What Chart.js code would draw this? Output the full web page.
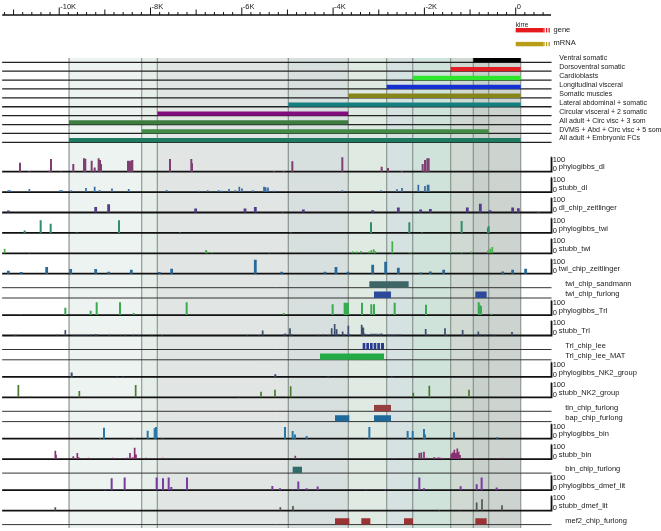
<!DOCTYPE html>
<html><head><meta charset="utf-8">
<script src="https://cdn.jsdelivr.net/npm/chart.js@4.4.0/dist/chart.umd.min.js"></script>
<style>html,body{margin:0;padding:0;background:#fff}#wrap{width:661px;height:531px}</style>
</head><body><div id="wrap"><canvas id="c" width="661" height="531"></canvas></div>
<script>
// ---------------- DATA ----------------
const rulerTickValues = [-10000,-8000,-6000,-4000,-2000,0];
const rulerTickLabels = ['-10K','-8K','-6K','-4K','-2K','0'];
const geneName = 'kirre';
const legendNames = ['gene','mRNA'];

const exprNames = ['Ventral somatic','Dorsoventral somatic','Cardioblasts','Longitudinal visceral','Somatic muscles','Lateral abdominal + somatic','Circular visceral + 2 somatic','All adult + Circ visc + 3 som','DVMS + Abd + Circ visc + 5 som','All adult + Embryonic FCs'];
const exprStart = [-929,-1424,-2256,-2826,-3667,-4981,-7851,-9785,-8193,-9785];
const exprEnd   = [110,110,110,110,110,110,-3667,-3667,-591,110];
const exprColors = ['#000000','#e31e24','#2ee62e','#1530d0','#85851a','#157f80','#820c7e','#3e7d40','#428a46','#1e7b61'];

const trackNames = ['phylogibbs_dl','stubb_dl','dl_chip_zeitlinger','phylogibbs_twi','stubb_twi','twi_chip_zeitlinger','twi_chip_sandmann','twi_chip_furlong','phylogibbs_Trl','stubb_Trl','Trl_chip_lee','Trl_chip_lee_MAT','phylogibbs_NK2_group','stubb_NK2_group','tin_chip_furlong','bap_chip_furlong','phylogibbs_bin','stubb_bin','bin_chip_furlong','phylogibbs_dmef_lit','stubb_dmef_lit','mef2_chip_furlong'];
const trackColors = ['#7f3f72','#3a6aa0','#553c8a','#2f8f6a','#48b048','#2a6a9a','#3e6666','#2c4a9a','#3aaa50','#3e4e6e','#2a3a90','#22aa44','#3a4a7a','#4a7a30','#944040','#1f6a9a','#2a78a8','#8a3070','#2f6e6a','#7a3aa0','#555555','#9a3434'];

const phylogibbs_dl_pos = [-10859,-10654,-10216,-10180,-9968,-9691,-9457,-9428,-9289,-9223,-9136,-9106,-9084,-8493,-8464,-8442,-8398,-7573,-7106,-7091,-5295,-5083,-4893,-3798,-2936,-2797,-2498,-2038,-1987,-1936,-1907];
const phylogibbs_dl_val = [62,5,7,88,3,53,93,90,76,30,93,81,53,76,72,76,81,88,88,58,4,5,72,100,35,25,5,53,81,93,93];
const stubb_dl_pos = [-11114,-11078,-10654,-9983,-9939,-9734,-9413,-9223,-9121,-9106,-8844,-8478,-7646,-6938,-6748,-6507,-6441,-6281,-6142,-6054,-5996,-5762,-5514,-5477,-5426,-5295,-3798,-2951,-2600,-2491,-2133,-1987,-1929,-1907];
const stubb_dl_val = [12,12,21,12,12,12,28,37,12,12,25,21,14,10,12,12,10,21,12,37,25,12,37,33,32,10,12,12,19,28,51,42,51,51];
const dl_chip_zeitlinger_pos = [-11114,-9201,-8917,-7011,-5930,-5704,-5105,-4652,-3133,-2571,-2082,-1870,-1060,-775,-563,-67,58,496];
const dl_chip_zeitlinger_val = [14,39,58,28,28,39,3,21,16,35,21,25,35,60,16,35,30,3];
const phylogibbs_twi_pos = [-10757,-10406,-10187,-9618,-8690,-7354,-4930,-3170,-2330,-2053,-1184,-607,-592];
const phylogibbs_twi_val = [16,88,63,3,88,2,2,74,74,2,83,35,46];
const stubb_twi_pos = [-11195,-10654,-6784,-6755,-6653,-5397,-3571,-3484,-3389,-3221,-3163,-3111,-3075,-2703,-2330,-2286,-1425,-1184,-972,-607,-556,-512];
const stubb_twi_val = [32,5,23,12,9,5,14,12,16,12,23,28,14,83,9,9,9,9,12,19,32,44];
const twi_chip_zeitlinger_pos = [-11114,-10830,-10274,-9749,-9201,-8917,-8420,-7807,-7537,-5704,-5127,-4178,-3937,-3674,-3133,-2849,-2571,-2082,-1870,-1578,-286,-67,218];
const twi_chip_zeitlinger_val = [21,12,46,32,32,14,28,12,35,97,14,14,46,14,63,83,42,9,16,28,16,28,35];
const twi_chip_sandmann_start = [-3206];
const twi_chip_sandmann_end = [-2345];
const twi_chip_furlong_start = [-3104,-884];
const twi_chip_furlong_end = [-2732,-636];
const phylogibbs_Trl_pos = [-10844,-9866,-9311,-9179,-8668,-8369,-7208,-5083,-4010,-3747,-3710,-3674,-3367,-3163,-3104,-2761,-2651,-1965,-811,-789,-760,-534];
const phylogibbs_Trl_val = [5,51,30,90,90,14,90,14,76,86,86,86,86,76,76,5,86,72,90,72,63,9];
const stubb_Trl_pos = [-10990,-10947,-10056,-9866,-9691,-9618,-9545,-9472,-9384,-9311,-9216,-9179,-8902,-8654,-8551,-8376,-8259,-7967,-7748,-5879,-5623,-5543,-5076,-5047,-4944,-4901,-4324,-4214,-4105,-4031,-3966,-3922,-3871,-3791,-3754,-3666,-3630,-3374,-3338,-3309,-3265,-3177,-3126,-3082,-3031,-2973,-2936,-2812,-2768,-2717,-2666,-2608,-2535,-1972,-1907,-1549,-1498,-1162,-877,-819,-775,-673,-534,-461,-81];
const stubb_Trl_val = [5,5,7,39,5,5,5,5,5,7,9,9,5,5,5,5,5,5,3,3,5,35,9,14,51,9,5,9,5,51,79,44,9,28,9,67,9,74,56,14,9,12,12,12,12,12,14,9,7,7,5,7,9,46,5,51,5,39,7,28,9,7,9,5,25];
const Trl_chip_lee_start = [-3352,-3272,-3192,-3112,-3032,-2952];
const Trl_chip_lee_end = [-3294,-3214,-3134,-3054,-2974,-2885];
const Trl_chip_lee_MAT_start = [-4287];
const Trl_chip_lee_MAT_end = [-2885];
const phylogibbs_NK2_group_pos = [-9727,-8740,-8595,-5266,-4105,-2717];
const phylogibbs_NK2_group_val = [30,2,2,19,3,3];
const stubb_NK2_group_pos = [-10895,-10640,-9559,-8325,-6061,-5579,-5273,-4930,-2243,-1892,-1337,-1023];
const stubb_NK2_group_val = [86,5,44,86,3,39,53,76,32,81,5,53];
const tin_chip_furlong_start = [-3104];
const tin_chip_furlong_end = [-2732];
const bap_chip_furlong_start = [-3958,-3104];
const bap_chip_furlong_end = [-3644,-2732];
const phylogibbs_bin_pos = [-9106,-9019,-8347,-8062,-7909,-7880,-7734,-5054,-4886,-4835,-4579,-3287,-3206,-2367,-2257,-2009,-1987,-1352,-402];
const phylogibbs_bin_val = [3,76,3,56,72,81,3,81,53,30,19,2,81,53,53,67,30,44,12];
const stubb_bin_pos = [-10289,-10187,-10085,-10070,-9691,-9603,-9574,-9362,-8829,-8778,-8566,-8508,-8449,-8391,-8347,-8318,-8099,-7894,-7734,-4828,-2681,-2111,-2067,-2009,-1950,-1790,-1746,-1688,-1636,-1585,-1410,-1381,-1344,-1308,-1279,-1249,-1220,-1030,-957,-855,-738,-402,-308];
const stubb_bin_val = [3,5,58,30,19,42,12,9,9,5,5,9,42,12,79,32,9,5,9,23,7,42,46,51,9,12,9,12,9,7,37,46,65,42,74,51,28,5,5,7,5,5,9];
const bin_chip_furlong_start = [-4886];
const bin_chip_furlong_end = [-4681];
const phylogibbs_dmef_lit_pos = [-8997,-8851,-8566,-7865,-7726,-7602,-7544,-7200,-5331,-5163,-4886,-4762,-4579,-4338,-3279,-2863,-2111,-2009,-1206,-855,-746,-417];
const phylogibbs_dmef_lit_val = [3,83,88,88,83,88,23,88,30,14,5,60,14,25,3,5,88,14,28,42,88,19];
const stubb_dmef_lit_pos = [-10085,-8142,-5156,-4879,-3688,-1673,-1206,-855,-738,-300];
const stubb_dmef_lit_val = [23,3,23,32,3,5,3,56,79,37];
const mef2_chip_furlong_start = [-3958,-3382,-2447,-884];
const mef2_chip_furlong_end = [-3644,-3184,-2250,-636];

// ---------------- LAYOUT / STYLE ----------------
const X_MIN = -11297, X_MAX = 3183;
const RULER_START = -11250, RULER_END = 773, LINE_END = 785;
const Q_SCALE = 0.144;
const FONT = '"Liberation Sans", Arial, Helvetica, sans-serif';

const trackData = {
  phylogibbs_dl:{pos:phylogibbs_dl_pos,val:phylogibbs_dl_val},
  stubb_dl:{pos:stubb_dl_pos,val:stubb_dl_val},
  dl_chip_zeitlinger:{pos:dl_chip_zeitlinger_pos,val:dl_chip_zeitlinger_val},
  phylogibbs_twi:{pos:phylogibbs_twi_pos,val:phylogibbs_twi_val},
  stubb_twi:{pos:stubb_twi_pos,val:stubb_twi_val},
  twi_chip_zeitlinger:{pos:twi_chip_zeitlinger_pos,val:twi_chip_zeitlinger_val},
  twi_chip_sandmann:{start:twi_chip_sandmann_start,end:twi_chip_sandmann_end},
  twi_chip_furlong:{start:twi_chip_furlong_start,end:twi_chip_furlong_end},
  phylogibbs_Trl:{pos:phylogibbs_Trl_pos,val:phylogibbs_Trl_val},
  stubb_Trl:{pos:stubb_Trl_pos,val:stubb_Trl_val},
  Trl_chip_lee:{start:Trl_chip_lee_start,end:Trl_chip_lee_end},
  Trl_chip_lee_MAT:{start:Trl_chip_lee_MAT_start,end:Trl_chip_lee_MAT_end},
  phylogibbs_NK2_group:{pos:phylogibbs_NK2_group_pos,val:phylogibbs_NK2_group_val},
  stubb_NK2_group:{pos:stubb_NK2_group_pos,val:stubb_NK2_group_val},
  tin_chip_furlong:{start:tin_chip_furlong_start,end:tin_chip_furlong_end},
  bap_chip_furlong:{start:bap_chip_furlong_start,end:bap_chip_furlong_end},
  phylogibbs_bin:{pos:phylogibbs_bin_pos,val:phylogibbs_bin_val},
  stubb_bin:{pos:stubb_bin_pos,val:stubb_bin_val},
  bin_chip_furlong:{start:bin_chip_furlong_start,end:bin_chip_furlong_end},
  phylogibbs_dmef_lit:{pos:phylogibbs_dmef_lit_pos,val:phylogibbs_dmef_lit_val},
  stubb_dmef_lit:{pos:stubb_dmef_lit_pos,val:stubb_dmef_lit_val},
  mef2_chip_furlong:{start:mef2_chip_furlong_start,end:mef2_chip_furlong_end}
};

const EXPR_TOP = 62.3, EXPR_STEP = 8.89;
const exprBase = exprNames.map((_,i)=>EXPR_TOP + i*EXPR_STEP);
const trackBase = [];
(function(){
  let b = 171.7, prev = null;
  trackNames.forEach((n,i)=>{
    const q = !!trackData[n].pos;
    if (i>0){
      if (prev && q) b += 20.4;
      else if (prev && !q) b += 14.0;
      else if (!prev && q) b += 17.1;
      else b += 10.3;
    }
    trackBase.push(b); prev = q;
  });
})();
const BAND_TOP = 58, BAND_BOTTOM = 528;

function rgba(hex,a){const n=parseInt(hex.slice(1),16);return `rgba(${n>>16&255},${n>>8&255},${n&255},${a})`;}
function segs(list){const d=[];list.forEach(([x1,y1,x2,y2])=>{d.push({x:x1,y:y1},{x:x2,y:y2},{x:x2,y:null});});return d;}
function ds(data,color,width,extra){return Object.assign({data,borderColor:color,backgroundColor:color,borderWidth:width,pointRadius:0,pointHoverRadius:0,fill:false,spanGaps:false,tension:0,borderCapStyle:'butt',order:1},extra||{});}

const datasets = [];
exprNames.forEach((n,i)=>{
  datasets.push(ds([{x:exprStart[i],y:BAND_TOP},{x:exprEnd[i],y:BAND_TOP}],'rgba(0,0,0,0)',0,{fill:{value:BAND_BOTTOM},backgroundColor:rgba(exprColors[i],0.042),order:5}));
});
const edges = [...new Set(exprStart.concat(exprEnd))];
datasets.push(ds(segs(edges.map(e=>[e,BAND_TOP,e,BAND_BOTTOM])),'rgba(110,120,115,0.38)',1,{order:4}));

datasets.push(ds(segs([[RULER_START,15,RULER_END,15]]),'#111',1.4,{order:1}));
const rTicks=[];
for(let v=-11200; v<=600; v+=200){
  const h = (v%2000===0)?7.5:((v%1000===0)?5.5:3);
  rTicks.push([v,15,v,15-h]);
}
datasets.push(ds(segs(rTicks),'#111',1,{order:1}));

datasets.push(ds(segs([[0,30.2,605,30.2]]),'#e41a1c',4.4,{order:0}));
datasets.push(ds(segs([[605,30.2,RULER_END,30.2]]),'#e41a1c',4.4,{order:0,borderDash:[1.3,1.3]}));
datasets.push(ds(segs([[0,44.1,605,44.1]]),'#b99d17',4.4,{order:0}));
datasets.push(ds(segs([[605,44.1,RULER_END,44.1]]),'#b99d17',4.4,{order:0,borderDash:[1.3,1.3]}));

datasets.push(ds(segs(exprBase.map(b=>[RULER_START,b,LINE_END,b])),'#222',1.3,{order:1}));
exprNames.forEach((n,i)=>{
  datasets.push(ds(segs([[exprStart[i],exprBase[i]-2.1,exprEnd[i],exprBase[i]-2.1]]),exprColors[i],4.3,{order:0}));
});

trackNames.forEach((n,i)=>{
  const t = trackData[n], b = trackBase[i], c = trackColors[i];
  if (t.pos){
    datasets.push(ds(segs([[RULER_START,b,LINE_END,b],[770,b-100*Q_SCALE,LINE_END,b-100*Q_SCALE],[LINE_END,b-100*Q_SCALE,LINE_END,b+0.9]]),'#111',1.8,{order:1}));
    const w = n.indexOf('chip')>=0 ? 2.8 : (n.indexOf('stubb')===0 ? 1.7 : 2.0);
    datasets.push(ds(segs(t.pos.map((p,k)=>[p,b,p,b-t.val[k]*Q_SCALE])),c,w,{order:0}));
  } else {
    datasets.push(ds(segs([[RULER_START,b,LINE_END,b]]),'#333',1,{order:1}));
    datasets.push(ds(segs(t.start.map((s,k)=>[s,b-3.2,t.end[k],b-3.2])),c,6.4,{order:0}));
  }
});

const textPlugin = {
  id:'texts',
  afterDatasetsDraw(chart){
    const {ctx, scales:{x,y}} = chart;
    ctx.save();
    ctx.fillStyle = '#1a1a1a';
    ctx.textAlign = 'left';
    ctx.textBaseline = 'alphabetic';
    ctx.font = '7.5px ' + FONT;
    rulerTickValues.forEach((v,i)=>ctx.fillText(rulerTickLabels[i], x.getPixelForValue(v)+1, y.getPixelForValue(8.6)));
    ctx.textBaseline = 'middle';
    ctx.font = '6.5px ' + FONT;
    ctx.fillText(geneName, x.getPixelForValue(0), y.getPixelForValue(25));
    ctx.font = '7.5px ' + FONT;
    ctx.fillText(legendNames[0], x.getPixelForValue(830), y.getPixelForValue(29.5));
    ctx.fillText(legendNames[1], x.getPixelForValue(830), y.getPixelForValue(43));
    ctx.font = '7px ' + FONT;
    exprNames.forEach((n,i)=>ctx.fillText(n, x.getPixelForValue(955), y.getPixelForValue(exprBase[i]-3.8)));
    ctx.font = '7.5px ' + FONT;
    trackNames.forEach((n,i)=>{
      const b = trackBase[i];
      if (trackData[n].pos){
        ctx.fillText('100', x.getPixelForValue(810), y.getPixelForValue(b-12.2));
        ctx.fillText('0', x.getPixelForValue(810), y.getPixelForValue(b-2.4));
        ctx.fillText(n, x.getPixelForValue(945), y.getPixelForValue(b-4.4));
      } else {
        ctx.fillText(n, x.getPixelForValue(1085), y.getPixelForValue(b-3.8));
      }
    });
    ctx.restore();
  }
};

new Chart(document.getElementById('c').getContext('2d'), {
  type:'line',
  data:{datasets},
  options:{
    responsive:false, animation:false, events:[],
    layout:{padding:0},
    plugins:{legend:{display:false}, tooltip:{enabled:false}},
    scales:{
      x:{type:'linear', min:X_MIN, max:X_MAX, display:false, offset:false},
      y:{type:'linear', min:0, max:531, reverse:true, display:false}
    }
  },
  plugins:[textPlugin]
});
</script>
</body></html>
